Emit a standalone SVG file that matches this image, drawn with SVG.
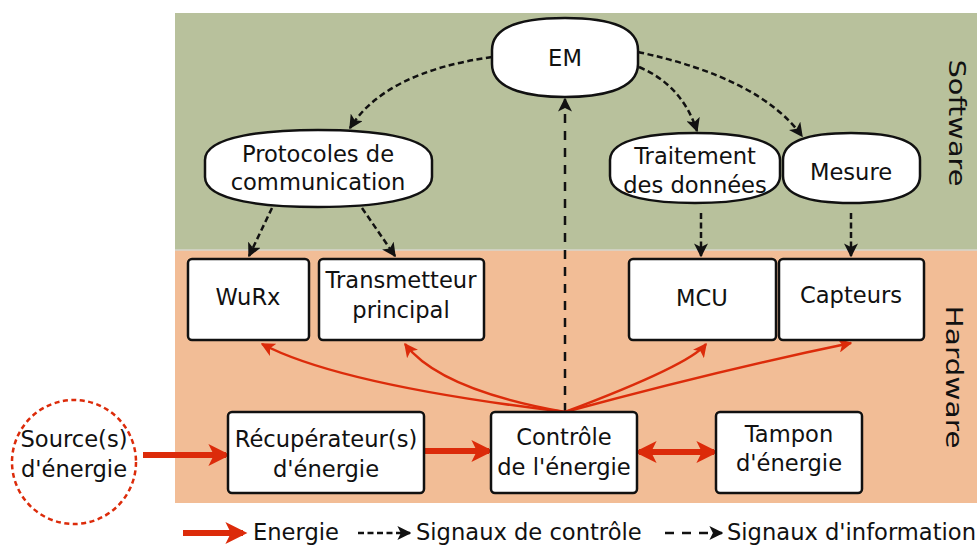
<svg xmlns="http://www.w3.org/2000/svg" width="977" height="545" viewBox="0 0 977 545">
<defs>
<style>
text{font-family:"DejaVu Sans","Liberation Sans",sans-serif;font-size:22.6px;fill:#111;text-anchor:middle}
.node{fill:#fff;stroke:#111;stroke-width:2.5}
.ctl{fill:none;stroke:#111;stroke-width:2.5;stroke-dasharray:6 3.5}
.inf{fill:none;stroke:#111;stroke-width:2.5;stroke-dasharray:9 8}
.en{fill:none;stroke:#dc2b0a;stroke-width:2.5}
.thick{fill:none;stroke:#dc2b0a;stroke-width:6}
</style>
<marker id="ah" viewBox="0 0 10 10" refX="9" refY="5" markerWidth="14" markerHeight="14" markerUnits="userSpaceOnUse" orient="auto"><path d="M0,0 L10,5 L0,10 L2.5,5 Z" fill="#111"/></marker>
<marker id="rh" viewBox="0 0 10 10" refX="9" refY="5" markerWidth="14" markerHeight="14" markerUnits="userSpaceOnUse" orient="auto"><path d="M0,0 L10,5 L0,10 L2.5,5 Z" fill="#dc2b0a"/></marker>
<marker id="bh" viewBox="0 0 10 10" refX="8" refY="5" markerWidth="24" markerHeight="22" markerUnits="userSpaceOnUse" orient="auto-start-reverse"><path d="M0,0 L10,5 L0,10 L2.5,5 Z" fill="#dc2b0a"/></marker>
</defs>

<rect x="175" y="13" width="802" height="237" fill="#b8c19c"/>
<rect x="175" y="250" width="802" height="253" fill="#f2bd96"/>
<line x1="175" y1="250" x2="977" y2="250" stroke="#d6d6cc" stroke-width="1.5"/>
<text transform="translate(949,123) rotate(90)" font-size="26" textLength="127" lengthAdjust="spacingAndGlyphs">Software</text>
<text transform="translate(946,377) rotate(90)" font-size="26" textLength="143" lengthAdjust="spacingAndGlyphs">Hardware</text>

<g id="connectors">
<path class="ctl" d="M492,57 Q385,72 350,128" marker-end="url(#ah)"/>
<path class="ctl" d="M638,52 Q760,78 802,136" marker-end="url(#ah)"/>
<path class="ctl" d="M639,67 Q682,85 697,131" marker-end="url(#ah)"/>
<path class="ctl" d="M272,208 L249,256" marker-end="url(#ah)"/>
<path class="ctl" d="M362,208 L395,256" marker-end="url(#ah)"/>
<path class="ctl" d="M701,213 L701,256" marker-end="url(#ah)"/>
<path class="ctl" d="M851,213 L851,256" marker-end="url(#ah)"/>
<path class="inf" d="M565,412 L565,99" marker-end="url(#ah)"/>
<path class="en" d="M565,412 Q340,385 262,344" marker-end="url(#rh)"/>
<path class="en" d="M565,412 Q440,390 405,344" marker-end="url(#rh)"/>
<path class="en" d="M565,412 Q690,365 706,344" marker-end="url(#rh)"/>
<path class="en" d="M565,412 Q720,370 851,343" marker-end="url(#rh)"/>
<path class="thick" d="M143,455 L226,455" marker-end="url(#bh)"/>
<path class="thick" d="M424,451 L489,451" marker-end="url(#bh)"/>
<path class="thick" d="M639,452 L714,452" marker-start="url(#bh)" marker-end="url(#bh)"/>
</g>

<g id="em"><path class="node" d="M492,50 C492,22 535,18 565,18 C595,18 638,22 638,50 L638,64 C638,92 595,97 565,97 C535,97 492,92 492,64 Z"/><text x="565" y="66">EM</text></g>
<g id="protocoles"><path class="node" d="M205,160 C205,135 270,130 318,130 C366,130 432,135 432,160 L432,177 C432,202 366,207 318,207 C270,207 205,202 205,177 Z"/><text x="318" y="162">Protocoles de</text><text x="318" y="190">communication</text></g>
<g id="traitement"><path class="node" d="M610,160 C610,137 660,133 695,133 C730,133 780,137 780,160 L780,176 C780,199 730,203 695,203 C660,203 610,199 610,176 Z"/><text x="695" y="164">Traitement</text><text x="695" y="193">des données</text></g>
<g id="mesure"><path class="node" d="M783,160 C783,137 820,133 851,133 C882,133 920,137 920,160 L920,176 C920,199 882,203 851,203 C820,203 783,199 783,176 Z"/><text x="851" y="180">Mesure</text></g>

<g id="wurx"><rect class="node" x="188" y="259" width="121" height="81" rx="4"/><text x="248" y="305">WuRx</text></g>
<g id="transmetteur"><rect class="node" x="319" y="259" width="165" height="81" rx="4"/><text x="401" y="288">Transmetteur</text><text x="401" y="318">principal</text></g>
<g id="mcu"><rect class="node" x="629" y="259" width="147" height="81" rx="4"/><text x="702" y="306">MCU</text></g>
<g id="capteurs"><rect class="node" x="779" y="259" width="145" height="81" rx="4"/><text x="851" y="303">Capteurs</text></g>

<g id="source"><circle cx="74" cy="462" r="62" fill="#fff" stroke="#dc2b0a" stroke-width="2.5" stroke-dasharray="5 3.5"/><text x="74" y="447">Source(s)</text><text x="74" y="477">d'énergie</text></g>
<g id="recuperateur"><rect class="node" x="228" y="412" width="196" height="81" rx="4"/><text x="326" y="447">Récupérateur(s)</text><text x="326" y="477">d'énergie</text></g>
<g id="controle"><rect class="node" x="491" y="412" width="146" height="81" rx="4"/><text x="564" y="445">Contrôle</text><text x="564" y="475">de l'énergie</text></g>
<g id="tampon"><rect class="node" x="716" y="412" width="146" height="81" rx="4"/><text x="789" y="442">Tampon</text><text x="789" y="471">d'énergie</text></g>

<g id="legend">
<path class="thick" d="M183,533 L243,533" marker-end="url(#bh)"/>
<text x="253" y="540" style="text-anchor:start" font-size="21">Energie</text>
<path class="ctl" d="M358,533 L410,533" marker-end="url(#ah)"/>
<text x="416" y="540" style="text-anchor:start" font-size="21">Signaux de contrôle</text>
<path class="inf" d="M665,533 L722,533" marker-end="url(#ah)"/>
<text x="727" y="540" style="text-anchor:start" font-size="21">Signaux d'information</text>
</g>
</svg>
